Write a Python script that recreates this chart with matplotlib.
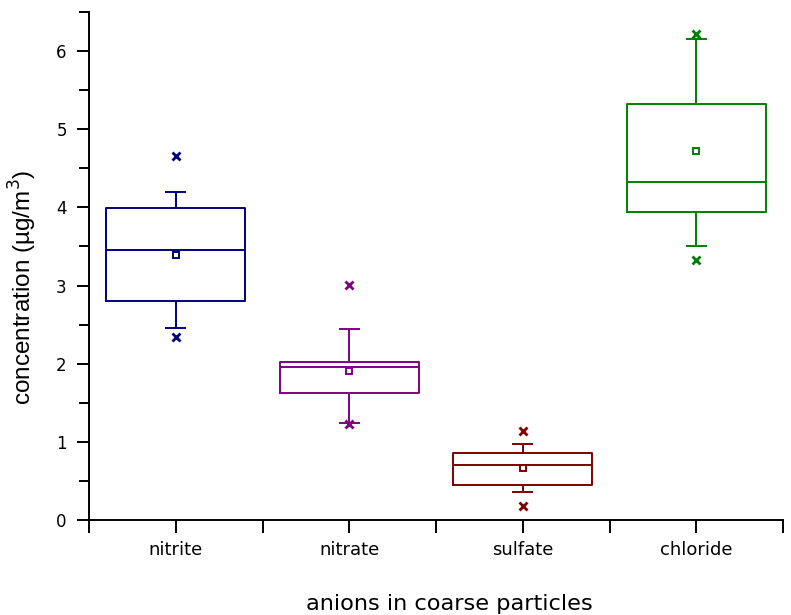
import matplotlib
matplotlib.use("Agg")
import matplotlib.pyplot as plt
from matplotlib.ticker import MultipleLocator

plt.rcParams['font.family'] = ['DejaVu Sans']

categories = ["nitrite", "nitrate", "sulfate", "chloride"]
colors = ["#000080", "#800080", "#800000", "#008000"]
q1 = [2.80, 1.63, 0.45, 3.94]
median = [3.45, 1.96, 0.71, 4.32]
q3 = [3.99, 2.02, 0.86, 5.32]
mean = [3.39, 1.91, 0.67, 4.72]
whislo = [2.46, 1.245, 0.36, 3.50]
whishi = [4.20, 2.45, 0.97, 6.16]
x_low = [2.34, 1.23, 0.18, 3.33]
x_high = [4.66, 3.01, 1.14, 6.22]

fig = plt.figure(figsize=(7.91, 6.15), dpi=100)
ax = fig.add_axes([89/791, (615-520)/615, (783-89)/791, (520-12)/615])

for i, cat in enumerate(categories):
    stats = [dict(label=cat, q1=q1[i], med=median[i], q3=q3[i], mean=mean[i],
                  whislo=whislo[i], whishi=whishi[i], fliers=[x_low[i], x_high[i]])]
    c = colors[i]
    lw = 1.4
    ax.bxp(stats, positions=[i + 1], widths=0.8, showmeans=True, showfliers=True,
           boxprops=dict(color=c, lw=lw), medianprops=dict(color=c, lw=lw),
           whiskerprops=dict(color=c, lw=lw), capprops=dict(color=c, lw=lw),
           capwidths=0.11,
           meanprops=dict(marker='s', markerfacecolor='white', markeredgecolor=c,
                          markersize=5, markeredgewidth=1.4),
           flierprops=dict(marker='x', markeredgecolor=c, markersize=6,
                           markeredgewidth=2.0))

ax.set_xlim(0.5, 4.5)
ax.set_ylim(0, 6.5)
ax.set_xticks([1, 2, 3, 4])
ax.set_xticklabels(categories)
ax.xaxis.set_minor_locator(MultipleLocator(0.5))
ax.yaxis.set_major_locator(MultipleLocator(1))
ax.yaxis.set_minor_locator(MultipleLocator(0.5))
ax.spines['top'].set_visible(False)
ax.spines['right'].set_visible(False)
for s in ['left', 'bottom']:
    ax.spines[s].set_linewidth(1.4)
ax.tick_params(axis='both', which='both', direction='out', width=1.4, length=9)
ax.tick_params(axis='x', which='major', labelsize=13, pad=6)
ax.tick_params(axis='y', which='major', labelsize=12, pad=7)
ax.tick_params(axis='x', which='minor', length=9)
ax.tick_params(axis='y', which='minor', length=7)

ax.set_xlabel("anions in coarse particles", fontsize=16.2, labelpad=25, x=0.519)
ax.set_ylabel("concentration (µg/m$^3$)", fontsize=17.5, labelpad=12, y=0.457,
              family=['Liberation Sans', 'DejaVu Sans'])

fig.savefig("out.png", dpi=100)
